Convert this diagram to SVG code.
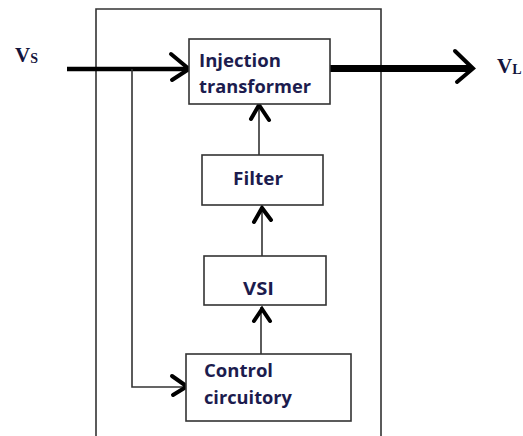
<svg xmlns="http://www.w3.org/2000/svg" width="523" height="436" viewBox="0 0 523 436">
<style>
.box{fill:#fff;stroke:#333;stroke-width:1.6}
.frame{fill:none;stroke:#333;stroke-width:1.6}
.thin{fill:none;stroke:#333;stroke-width:1.6}
.head{fill:none;stroke:#000;stroke-width:4;stroke-linecap:round;stroke-linejoin:miter}
.lbl{font-family:"Open Sans","Liberation Sans",sans-serif;font-weight:bold;font-size:18.5px;fill:#1c1c4e}
.sig{font-family:"Liberation Serif","Times New Roman",serif;font-weight:bold;fill:#14143c}
</style>
<rect width="523" height="436" fill="#fff"/>
<path class="frame" d="M96,436 V9 H381 V436"/>
<g id="connectors">
<line x1="67" y1="69" x2="189" y2="69" stroke="#000" stroke-width="4.5"/>
<polyline class="head" points="171,54 189,69 172,80"/>
<line x1="330" y1="68.5" x2="472" y2="68.5" stroke="#000" stroke-width="7"/>
<polyline class="head" points="455,51 473,68.5 457,82" stroke-width="4.5"/>
<polyline class="thin" points="132,69 132,387 186,387"/>
<polyline class="head" points="172,376 187,386.5 173,395"/>
<line class="thin" x1="259" y1="104" x2="259" y2="155"/>
<polyline class="head" points="251,119 259,105 269,120"/>
<line class="thin" x1="262" y1="207" x2="262" y2="256"/>
<polyline class="head" points="254,222 262,208 271,220"/>
<line class="thin" x1="261" y1="307" x2="261" y2="354"/>
<polyline class="head" points="254,321 262,309 270,321"/>
</g>
<g id="injection">
<rect class="box" x="189" y="39" width="141" height="65"/>
<text class="lbl" x="199" y="67" textLength="82" lengthAdjust="spacingAndGlyphs">Injection</text>
<text class="lbl" x="199" y="93" textLength="112" lengthAdjust="spacingAndGlyphs">transformer</text>
</g>
<g id="filter">
<rect class="box" x="202" y="155" width="121" height="50"/>
<text class="lbl" x="233" y="185" textLength="50" lengthAdjust="spacingAndGlyphs">Filter</text>
</g>
<g id="vsi">
<rect class="box" x="204" y="256" width="122" height="49"/>
<text class="lbl" x="243" y="295" textLength="31" lengthAdjust="spacingAndGlyphs">VSI</text>
</g>
<g id="control">
<rect class="box" x="186" y="354" width="165" height="67"/>
<text class="lbl" x="204" y="377" textLength="69" lengthAdjust="spacingAndGlyphs">Control</text>
<text class="lbl" x="204" y="404" textLength="88" lengthAdjust="spacingAndGlyphs">circuitory</text>
</g>
<g id="vs">
<text class="sig" x="15" y="62" font-size="21">V<tspan font-size="14" dy="1">S</tspan></text>
</g>
<g id="vl">
<text class="sig" x="497" y="73" font-size="21">V<tspan font-size="14" dy="1">L</tspan></text>
</g>
</svg>
